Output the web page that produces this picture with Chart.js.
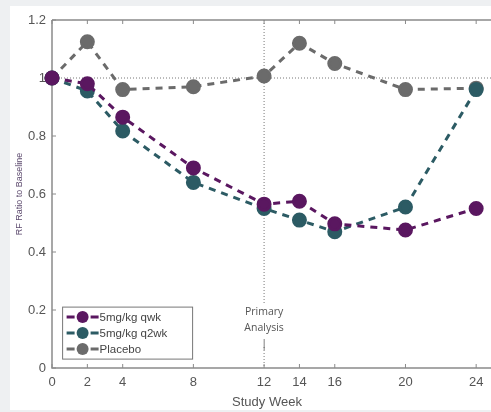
<!DOCTYPE html>
<html>
<head>
<meta charset="utf-8">
<script src="https://cdn.jsdelivr.net/npm/chart.js@4.4.0/dist/chart.umd.min.js"></script>
<style>
  html, body { margin: 0; padding: 0; background: #eef0f2; }
  #wrap { position: absolute; left: 10px; top: 6px; width: 481px; height: 404px; background: #fff; }
  #chart { position: absolute; left: 0; top: 0; }
</style>
</head>
<body>
<div id="wrap"><canvas id="chart" width="481" height="404"></canvas></div>
<script>
const weeks = [0, 2, 4, 8, 12, 14, 16, 20, 24];
const qwkValues = [1.0, 0.98, 0.865, 0.69, 0.565, 0.575, 0.497, 0.476, 0.55];
const q2wkValues = [1.0, 0.955, 0.817, 0.64, 0.55, 0.51, 0.47, 0.555, 0.96];
const placeboValues = [1.0, 1.125, 0.96, 0.97, 1.007, 1.12, 1.05, 0.96, 0.965];
const seriesLabels = ['5mg/kg qwk', '5mg/kg q2wk', 'Placebo'];
const xTicks = [0, 2, 4, 8, 12, 14, 16, 20, 24];
const yTicks = [0, 0.2, 0.4, 0.6, 0.8, 1.0, 1.2];
const primaryWeek = 12;
const baselineValue = 1.0;

const colors = ['#5a1760', '#2c5b64', '#6b6b6b'];

function pts(vals) {
    return weeks.map((w, i) => ({ x: w, y: vals[i] }));
}

function makeSet(label, vals, color) {
    return {
        label: label,
        data: pts(vals),
        borderColor: color,
        backgroundColor: color,
        pointBackgroundColor: color,
        pointBorderColor: color,
        borderWidth: 3,
        borderDash: [7, 6],
        pointRadius: 6,
        tension: 0,
        clip: false
    };
}

const decorations = {
    id: 'decorations',
    beforeDatasetsDraw(chart) {
        const ctx = chart.ctx;
        const xs = chart.scales.x, ys = chart.scales.y;
        const a = chart.chartArea;
        ctx.save();
        ctx.strokeStyle = '#777';
        ctx.lineWidth = 1;
        ctx.setLineDash([1, 2]);
        // baseline at 1.0
        const yb = ys.getPixelForValue(baselineValue);
        ctx.beginPath();
        ctx.moveTo(a.left, yb);
        ctx.lineTo(a.right + 20, yb);
        ctx.stroke();
        // primary analysis line
        const xp = xs.getPixelForValue(primaryWeek);
        ctx.beginPath();
        ctx.moveTo(xp, a.top);
        ctx.lineTo(xp, a.bottom);
        ctx.stroke();
        ctx.setLineDash([]);
        // annotation text
        ctx.font = '10.5px "Open Sans", sans-serif';
        ctx.textAlign = 'center';
        ctx.textBaseline = 'middle';
        const ty = ys.getPixelForValue(0.2);
        ctx.fillStyle = '#fff';
        ctx.fillRect(xp - 23, ty - 7, 46, 42);
        ctx.fillStyle = '#555';
        ctx.fillText('Primary', xp, ty + 2);
        ctx.fillText('Analysis', xp, ty + 18);
        ctx.fillText('|', xp, ty + 34);
        // axis box
        ctx.strokeStyle = '#8a8a8a';
        ctx.lineWidth = 1.5;
        ctx.beginPath();
        ctx.moveTo(a.left, a.top);
        ctx.lineTo(a.right + 20, a.top);
        ctx.moveTo(a.left, a.top);
        ctx.lineTo(a.left, a.bottom);
        ctx.lineTo(a.right + 20, a.bottom);
        ctx.stroke();
        // inward ticks on x axis, top and bottom
        ctx.lineWidth = 1;
        xTicks.forEach(t => {
            const px = xs.getPixelForValue(t);
            ctx.beginPath();
            ctx.moveTo(px, a.bottom);
            ctx.lineTo(px, a.bottom - 4);
            ctx.moveTo(px, a.top);
            ctx.lineTo(px, a.top + 4);
            ctx.stroke();
        });
        yTicks.forEach(t => {
            const py = ys.getPixelForValue(t);
            ctx.beginPath();
            ctx.moveTo(a.left, py);
            ctx.lineTo(a.left + 4, py);
            ctx.stroke();
        });
        ctx.restore();
    },
    afterDatasetsDraw(chart) {
        // legend box inside the plot
        const ctx = chart.ctx;
        const xs = chart.scales.x, ys = chart.scales.y;
        const left = xs.getPixelForValue(0.6);
        const top = ys.getPixelForValue(0.21);
        const w = 130, h = 52;
        ctx.save();
        ctx.fillStyle = '#fff';
        ctx.fillRect(left, top, w, h);
        ctx.strokeStyle = '#777';
        ctx.lineWidth = 1;
        ctx.strokeRect(left, top, w, h);
        ctx.font = '11.5px Arial, "Liberation Sans", sans-serif';
        ctx.textBaseline = 'middle';
        ctx.textAlign = 'left';
        chart.data.datasets.forEach((ds, i) => {
            const cy = top + 10 + i * 16;
            ctx.strokeStyle = ds.borderColor;
            ctx.lineWidth = 3;
            ctx.beginPath();
            ctx.moveTo(left + 4, cy); ctx.lineTo(left + 12, cy);
            ctx.moveTo(left + 28, cy); ctx.lineTo(left + 36, cy);
            ctx.stroke();
            ctx.fillStyle = ds.borderColor;
            ctx.beginPath();
            ctx.arc(left + 20, cy, 6, 0, Math.PI * 2);
            ctx.fill();
            ctx.fillStyle = '#444';
            ctx.fillText(ds.label, left + 37, cy + 1);
        });
        ctx.restore();
    }
};

new Chart(document.getElementById('chart').getContext('2d'), {
    type: 'line',
    data: {
        datasets: [
            makeSet(seriesLabels[0], qwkValues, colors[0]),
            makeSet(seriesLabels[1], q2wkValues, colors[1]),
            makeSet(seriesLabels[2], placeboValues, colors[2])
        ]
    },
    options: {
        responsive: false,
        animation: false,
        layout: { padding: { left: 4, right: 0, top: 14, bottom: 0 } },
        plugins: {
            legend: { display: false },
            tooltip: { enabled: false }
        },
        scales: {
            x: {
                type: 'linear',
                min: 0,
                max: 24.33,
                afterBuildTicks: s => { s.ticks = xTicks.map(v => ({ value: v })); },
                afterFit: s => { s.height = 42; },
                grid: { display: false, drawTicks: false },
                border: { display: false },
                ticks: {
                    color: '#555',
                    padding: 7,
                    font: { size: 13, family: 'Arial, "Liberation Sans", sans-serif' },
                    maxRotation: 0,
                    callback: v => String(v)
                },
                title: {
                    display: true,
                    text: 'Study Week',
                    color: '#555',
                    padding: { top: 0, bottom: 0 },
                    font: { size: 13, family: 'Arial, "Liberation Sans", sans-serif' }
                }
            },
            y: {
                min: 0,
                max: 1.2,
                afterBuildTicks: s => { s.ticks = yTicks.map(v => ({ value: v })); },
                afterFit: s => { s.width = 38; },
                grid: { display: false, drawTicks: false },
                border: { display: false },
                ticks: {
                    color: '#555',
                    padding: 6,
                    font: { size: 13, family: 'Arial, "Liberation Sans", sans-serif' },
                    callback: v => String(Math.round(v * 10) / 10)
                },
                title: {
                    display: true,
                    text: 'RF Ratio to Baseline',
                    color: '#5d4a6e',
                    padding: { top: 0, bottom: 0 },
                    font: { size: 9, family: 'Arial, "Liberation Sans", sans-serif' }
                }
            }
        }
    },
    plugins: [decorations]
});
</script>
</body>
</html>
